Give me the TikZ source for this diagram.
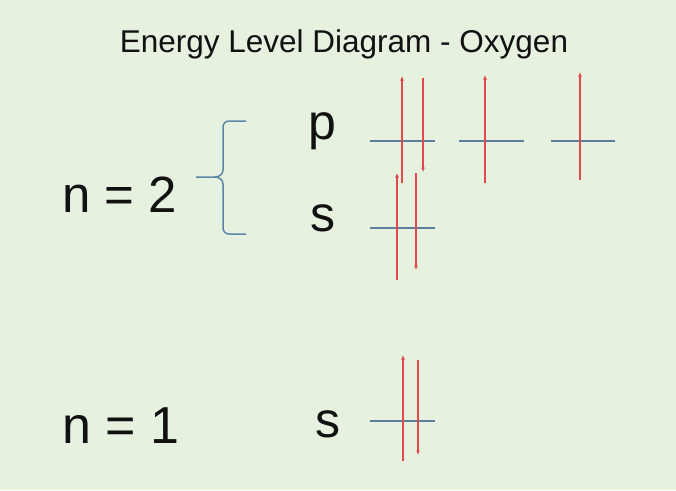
\documentclass[tikz,border=0pt]{standalone}
\usepackage{fontspec}
\setmainfont{Liberation Sans}
\usetikzlibrary{arrows.meta}
\definecolor{bg}{HTML}{E6F1E0}
\definecolor{lvl}{HTML}{5E7F9C}
\definecolor{spin}{HTML}{E04A4A}
\definecolor{brc}{HTML}{5B86A6}
\definecolor{txt}{HTML}{111111}
\tikzset{
  lbl/.style={inner sep=0pt, anchor=base west, text=txt, font=\fontsize{50}{56}\selectfont},
  level/.style={draw=lvl, line width=1.5pt},
  up/.style={draw=spin, line width=1.6pt, -{Latex[length=4.5pt,width=4pt]}},
}
\begin{document}
\begin{tikzpicture}[x=1pt,y=-1pt]
\fill[bg] (0,0) rectangle (676,490);
\useasboundingbox (0,0) rectangle (676,490);
\node[inner sep=0pt, anchor=base, text=txt, font=\fontsize{31.5}{36}\selectfont] (title) at (344,52) {Energy Level Diagram - Oxygen};
\node[lbl, font=\fontsize{51}{56}\selectfont] (n2) at (62,212) {n = 2};
\node[lbl, font=\fontsize{52}{58}\selectfont] (n1) at (62,443) {n = 1};
\node[lbl] (p) at (308,139) {p};
\node[lbl] (s2) at (310,231) {s};
\node[lbl] (s1) at (315,437) {s};
% brace
\draw[brc, line width=1.5pt] (246,121) -- (229,121) to[out=180,in=90] (223,127) -- (223,170)
  to[out=-90,in=0] (215,177) -- (196,177);
\draw[brc, line width=1.5pt] (215,177) to[out=0,in=90] (223,184) -- (223,228)
  to[out=-90,in=180] (229,234) -- (246,234);
% levels
\draw[level] (370,141) -- (435,141);
\draw[level] (459,141) -- (524,141);
\draw[level] (551,141) -- (615,141);
\draw[level] (370,228) -- (435,228);
\draw[level] (370,421) -- (435,421);
% 2p electrons
\draw[up] (402,183) -- (402,76);
\draw[up] (423,78) -- (423,172);
\draw[up] (485,183) -- (485,75);
\draw[up] (580,180) -- (580,72);
% 2s electrons
\draw[up] (397,280) -- (397,173);
\draw[up] (416,173) -- (416,270);
% 1s electrons
\draw[up] (403,461) -- (403,355);
\draw[up] (418,360) -- (418,455);
\end{tikzpicture}
\end{document}
